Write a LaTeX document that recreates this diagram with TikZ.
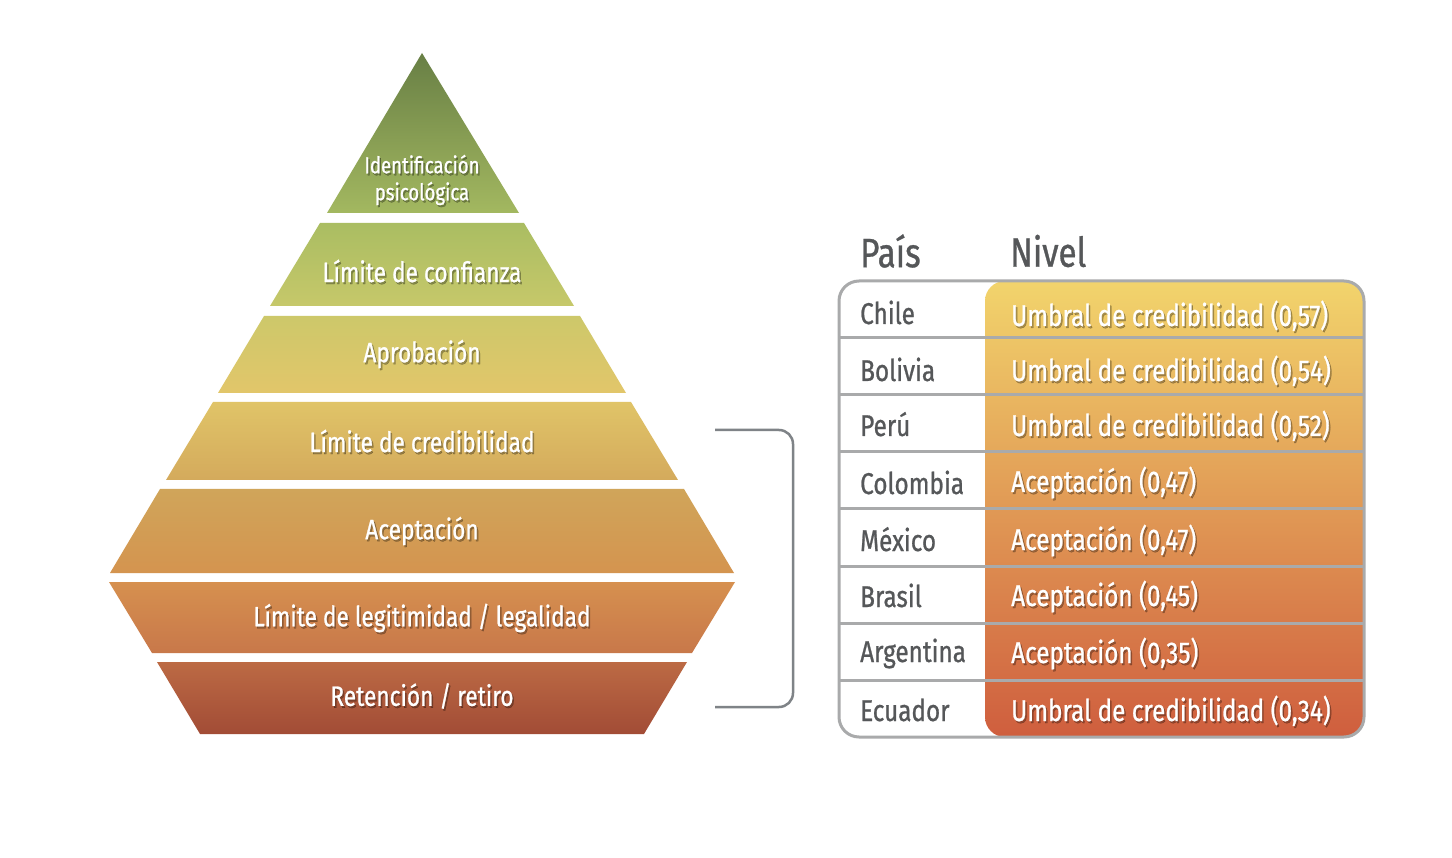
\documentclass[tikz,border=0pt]{standalone}
\usepackage{fontspec}
\setmainfont{Fira Sans}[FakeStretch=0.81, FakeBold=0.8]
\definecolor{txtgray}{HTML}{555759}
\definecolor{linegray}{HTML}{A9AAAB}
\definecolor{brkgray}{HTML}{7F8387}
\definecolor{pa}{HTML}{687F45}\definecolor{pb}{HTML}{A3B860}
\definecolor{pc}{HTML}{AABD62}\definecolor{pd}{HTML}{C6C86A}
\definecolor{pe}{HTML}{CDC86A}\definecolor{pf}{HTML}{E2C66A}
\definecolor{pg}{HTML}{E0C468}\definecolor{ph}{HTML}{D4AA5C}
\definecolor{pi}{HTML}{D0A55A}\definecolor{pj}{HTML}{D4944F}
\definecolor{pk}{HTML}{D6904F}\definecolor{pl}{HTML}{C8784A}
\definecolor{pm}{HTML}{BC6A44}\definecolor{pn}{HTML}{A24C36}
\definecolor{ta}{HTML}{F2D46C}\definecolor{tb}{HTML}{E2A055}\definecolor{tc}{HTML}{CF5E3E}
\tikzset{
  wtxt/.style={text=white, font=\fontsize{28}{30}\selectfont, align=center, inner sep=0pt},
  wtop/.style={wtxt, font=\fontsize{23}{27}\selectfont},
  ttxt/.style={text=white, font=\fontsize{30}{32}\selectfont, anchor=west, inner sep=0pt, text height=22pt, text depth=6pt},
  ctxt/.style={text=txtgray, font=\fontsize{30}{32}\selectfont, anchor=west, inner sep=0pt, text height=22pt, text depth=6pt},
  htxt/.style={text=txtgray, font=\fontsize{41}{44}\selectfont, anchor=west, inner sep=0pt},
  gridline/.style={draw=linegray, line width=3pt},
  brk/.style={draw=brkgray, line width=2.5pt, rounded corners=14pt},
}
\newcommand\wlabel[4][wtxt]{%
  \node[#1, text=black, opacity=0.3, xshift=1.5pt, yshift=-2pt] at (#3) {#4};
  \node[#1] (#2) at (#3) {#4};}
\begin{document}
\begin{tikzpicture}[x=1pt,y=-1pt]
\useasboundingbox (0,0) rectangle (1452,858);
\fill[white] (0,0) rectangle (1452,858);
% pyramid
\shade[top color=pa, bottom color=pb] (327,213) -- (422,53) -- (519,213) -- cycle;
\shade[top color=pc, bottom color=pd] (320,223) -- (524,223) -- (574,306) -- (270,306) -- cycle;
\shade[top color=pe, bottom color=pf] (264,316) -- (580,316) -- (626,393) -- (218,393) -- cycle;
\shade[top color=pg, bottom color=ph] (213,402) -- (631,402) -- (678,480) -- (166,480) -- cycle;
\shade[top color=pi, bottom color=pj] (160,489) -- (684,489) -- (734,573) -- (110,573) -- cycle;
\shade[top color=pk, bottom color=pl] (109,582) -- (735,582) -- (692,653) -- (152,653) -- cycle;
\shade[top color=pm, bottom color=pn] (157,662) -- (687,662) -- (644,734) -- (200,734) -- cycle;
\wlabel[wtop]{p1}{422,180}{Identificación\\psicológica}
\wlabel{p2}{422,271}{Límite de confianza}
\wlabel{p3}{422,354}{Aprobación}
\wlabel{p4}{422,441}{Límite de credibilidad}
\wlabel{p5}{422,531}{Aceptación}
\wlabel{p6}{422,618}{Límite de legitimidad / legalidad}
\wlabel{p7}{422,696}{Retención / retiro}
% bracket
\coordinate (b1) at (715,430);
\coordinate (b2) at (715,707);
\draw[brk] (b1) -- (793,430) -- (793,707) -- (b2);
% table
\node[htxt] (hpais) at (860,251) {País};
\node[htxt] (hnivel) at (1010,251) {Nivel};
\shade[rounded corners=20pt, top color=ta, middle color=tb, bottom color=tc] (985,281) rectangle (1363,737);
\foreach \yy in {338,395,452,509,566,623,680}
  \draw[gridline] (840,\yy) -- (1363,\yy);
\draw[gridline, rounded corners=20pt] (839,281) rectangle (1364,737);
\node[ctxt] (c1) at (860,316) {Chile};
\node[ctxt] (c2) at (860,373) {Bolivia};
\node[ctxt] (c3) at (860,428) {Perú};
\node[ctxt] (c4) at (860,486) {Colombia};
\node[ctxt] (c5) at (860,543) {México};
\node[ctxt] (c6) at (860,599) {Brasil};
\node[ctxt] (c7) at (860,654) {Argentina};
\node[ctxt] (c8) at (860,713) {Ecuador};
\wlabel[ttxt]{n1}{1011,318}{Umbral de credibilidad (0,57)}
\wlabel[ttxt]{n2}{1011,373}{Umbral de credibilidad (0,54)}
\wlabel[ttxt]{n3}{1011,428}{Umbral de credibilidad (0,52)}
\wlabel[ttxt]{n4}{1011,484}{Aceptación (0,47)}
\wlabel[ttxt]{n5}{1011,542}{Aceptación (0,47)}
\wlabel[ttxt]{n6}{1011,598}{Aceptación (0,45)}
\wlabel[ttxt]{n7}{1011,655}{Aceptación (0,35)}
\wlabel[ttxt]{n8}{1011,713}{Umbral de credibilidad (0,34)}
\end{tikzpicture}
\end{document}
